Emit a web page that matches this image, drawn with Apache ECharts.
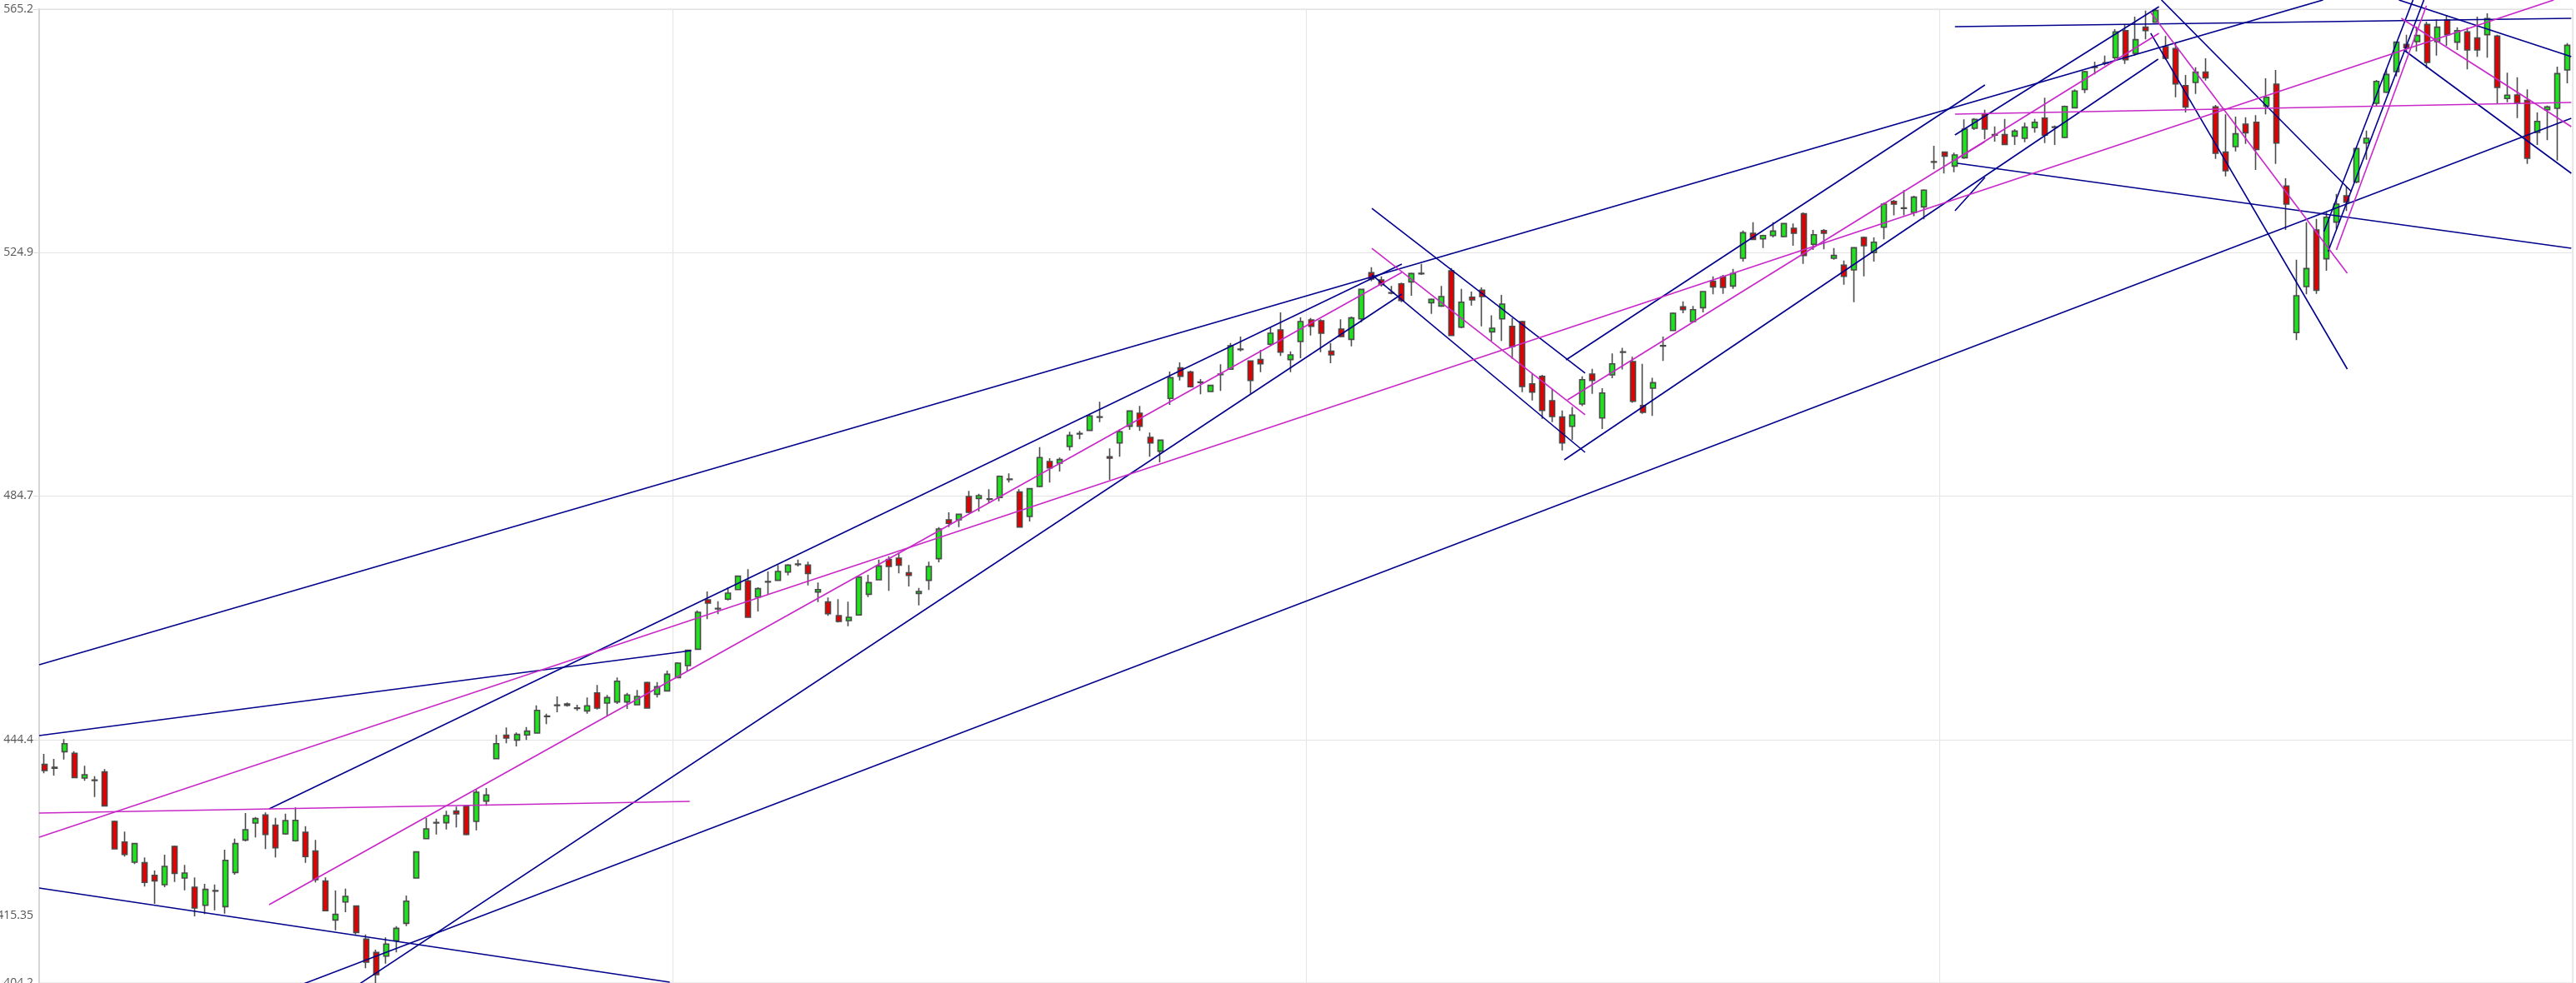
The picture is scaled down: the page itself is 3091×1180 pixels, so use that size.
<!DOCTYPE html>
<html>
<head>
<meta charset="utf-8">
<script src="https://cdn.jsdelivr.net/npm/echarts/dist/echarts.min.js"></script>
<style>html,body{margin:0;padding:0;background:#fff;overflow:hidden}#chart{width:3091px;height:1180px}</style>
</head>
<body>
<div id="chart"></div>
<script>
const opens = [440.33,439.69,442.44,442.17,438.08,437.67,439.09,430.92,427.52,424.17,424.08,422.01,420.45,426.79,421.55,420.04,417.05,419.40,416.82,422.47,
427.84,430.64,431.97,430.28,428.85,427.71,429.13,426.01,421.05,414.62,417.60,416.92,411.45,409.25,408.65,411.18,414.07,421.55,428.07,430.64,
430.69,432.62,433.44,430.92,434.27,441.29,445.15,444.37,445.20,445.52,448.23,450.06,450.34,449.60,449.19,452.17,450.47,450.66,450.66,450.20,
453.87,451.94,452.49,454.70,456.67,459.38,467.55,466.04,467.65,469.25,470.68,468.01,470.49,470.77,472.14,473.38,473.29,468.84,467.19,464.94,
464.11,465.03,468.47,470.86,474.21,474.44,472.01,468.61,470.77,474.35,480.78,480.78,484.63,484.31,484.17,484.45,487.43,485.37,481.33,486.28,
490.42,490.14,492.90,494.96,495.56,497.72,491.20,493.49,496.25,498.40,494.41,492.12,500.84,505.89,505.20,503.46,501.99,504.79,505.66,508.92,
507.04,507.27,509.79,512.18,507.27,510.25,513.82,513.69,508.64,512.31,510.61,514.01,521.63,520.44,518.23,519.79,520.11,521.45,516.67,516.12,
521.95,512.63,517.59,518.74,511.85,514.01,512.77,513.55,503.26,504.50,500.46,497.76,496.24,499.91,504.87,497.62,504.73,508.45,506.94,499.68,
502.53,509.51,512.08,515.98,513.55,515.84,520.21,520.94,519.43,524.02,528.15,527.23,527.78,527.60,528.98,531.37,526.32,528.61,524.02,522.87,
522.09,527.46,524.94,529.16,533.43,532.24,531.60,532.51,539.90,541.56,539.26,540.64,545.51,547.89,544.36,544.45,544.22,543.85,545.60,547.20,
545.64,543.99,548.90,551.93,555.56,556.25,557.17,561.66,557.90,562.22,563.04,559.00,558.68,552.57,553.08,554.78,549.04,541.56,542.47,546.19,
546.51,549.18,552.80,535.96,511.72,519.34,528.70,523.93,529.99,534.35,536.64,543.07,549.64,551.47,554.87,559.37,559.83,562.67,559.83,563.41,
559.74,561.44,560.43,560.98,560.75,550.42,551.01,550.10,544.82,548.58,548.81,555.15];
const closes = [439.32,439.87,443.77,438.17,438.63,437.76,433.49,426.37,425.46,427.25,420.82,421.09,423.48,422.33,422.38,416.59,419.67,419.49,424.49,427.25,
429.54,431.38,428.76,426.56,431.06,431.10,425.09,421.28,416.14,415.54,418.52,412.55,407.64,405.58,410.63,413.24,417.74,425.87,429.68,430.74,
431.88,432.16,428.76,435.74,435.28,443.77,444.69,445.29,445.84,449.28,448.32,450.15,450.11,449.69,450.02,449.65,451.39,454.10,451.81,451.58,
449.65,453.18,455.25,457.09,459.20,465.49,467.00,466.13,468.66,471.46,464.66,469.39,470.58,472.24,473.29,473.48,471.91,469.25,465.26,463.97,
464.66,471.32,470.40,473.15,473.06,473.29,471.59,468.93,473.06,479.26,480.18,481.69,482.02,484.77,484.26,487.98,487.52,479.58,485.92,491.06,
489.36,490.74,494.73,495.05,497.95,497.81,490.97,495.33,498.77,496.25,493.49,493.95,504.28,504.51,502.77,503.55,503.00,504.88,509.56,509.01,
503.82,506.58,511.63,508.51,508.05,513.56,512.77,511.62,508.04,511.07,514.15,518.87,520.57,519.65,518.32,517.04,521.49,521.54,517.22,517.68,
511.25,516.76,517.13,517.68,512.45,516.44,509.42,502.81,501.89,498.86,497.85,493.49,498.08,503.95,503.82,501.75,506.57,508.54,500.37,498.54,
503.45,509.60,514.93,515.52,515.52,518.51,519.29,519.20,521.49,528.24,527.14,527.78,528.52,529.76,528.15,524.48,527.92,528.15,524.48,521.03,
525.76,526.08,526.68,532.97,532.97,532.33,534.12,535.27,539.99,540.91,541.10,545.37,546.97,545.37,544.45,542.84,545.04,545.69,546.51,544.36,
545.73,549.13,551.66,554.87,555.65,556.34,561.44,556.84,560.15,561.66,564.97,557.07,552.85,549.04,554.78,553.86,541.37,538.48,544.59,544.77,
542.01,550.64,543.07,532.97,517.82,522.32,518.74,530.81,532.97,533.29,542.15,543.85,553.26,554.41,559.74,558.82,560.84,556.39,562.22,560.98,
561.66,558.45,558.45,563.64,552.25,550.97,549.73,540.55,546.65,549.04,554.55,559.23];
const lows = [438.86,438.49,441.16,438.08,437.62,434.96,433.40,426.28,425.09,423.85,420.13,417.28,420.04,420.91,419.53,415.22,415.58,416.23,415.68,422.10,
427.61,428.26,426.33,424.95,428.71,427.57,424.08,420.82,416.04,412.92,415.91,412.23,406.63,403.97,407.41,409.25,413.61,421.46,427.98,428.76,
429.59,429.91,428.62,429.45,433.49,441.20,443.82,443.31,444.37,445.42,446.99,448.96,449.88,449.19,448.73,449.42,448.27,450.34,449.51,450.11,
449.56,451.39,452.40,454.61,455.71,459.29,464.34,465.17,467.46,469.16,464.57,465.63,468.38,470.68,471.59,473.06,469.94,467.19,464.89,463.79,
463.19,464.94,468.01,470.77,469.02,471.91,469.76,466.63,469.16,473.75,479.58,479.58,481.88,482.15,483.53,483.85,486.93,479.49,480.50,486.15,
486.93,488.76,492.25,494.09,495.47,496.94,487.39,491.20,495.65,495.47,491.20,490.28,499.78,503.82,502.67,501.53,501.89,502.08,505.57,508.64,
501.62,505.20,509.56,507.86,505.20,507.50,511.25,508.50,506.66,510.93,509.46,513.46,520.25,519.33,518.05,516.76,517.82,521.26,514.83,515.98,
511.16,512.45,516.21,512.77,510.34,510.34,507.40,501.89,500.51,497.48,496.93,492.25,493.95,499.59,501.61,495.78,504.18,505.65,500.14,498.31,
497.94,507.03,511.99,514.93,513.46,515.06,518.05,518.14,518.97,523.47,527.00,525.72,527.46,527.46,526.08,523.10,525.40,525.49,523.79,519.66,
516.76,521.03,523.47,527.14,531.13,531.13,530.99,530.45,538.71,538.02,538.25,540.45,545.23,543.67,543.30,542.75,542.75,543.21,544.77,543.07,
542.75,543.85,548.81,551.33,554.41,555.92,556.84,556.16,557.53,560.20,562.95,556.84,550.64,548.12,551.20,553.40,540.45,537.56,541.69,542.93,
538.62,547.80,539.63,528.70,510.48,518.05,518.14,521.95,528.84,531.82,536.41,540.32,549.18,551.33,554.09,558.22,558.22,555.47,557.53,559.14,
558.45,555.24,557.30,557.17,549.64,549.82,547.20,539.63,542.75,543.53,540.18,552.95];
const highs = [442.07,441.25,444.51,442.53,440.10,438.40,439.55,431.06,429.22,427.34,424.95,422.79,425.41,426.92,423.71,421.64,420.59,420.50,426.24,428.07,
432.30,431.65,432.39,431.52,432.20,433.21,430.14,427.84,421.64,419.49,419.81,417.01,412.23,409.71,411.73,413.61,418.66,426.01,431.52,431.38,
432.66,433.35,433.58,436.20,436.43,445.24,446.43,445.61,446.53,450.11,448.73,451.58,450.57,450.20,451.39,453.46,451.81,454.70,452.17,452.63,
454.01,453.96,455.85,457.22,459.29,465.81,468.93,467.32,469.62,471.59,472.60,469.62,472.24,473.29,473.43,474.21,473.84,470.40,467.92,467.65,
467.23,471.46,471.69,474.21,474.76,475.36,473.29,469.53,473.84,479.58,482.02,481.79,485.55,485.09,485.83,488.12,488.44,485.83,486.01,492.80,
490.97,491.06,495.33,495.47,498.31,500.29,492.57,495.79,498.86,499.60,495.19,494.04,505.29,506.81,505.43,504.05,503.09,506.49,510.02,511.08,
507.13,508.87,512.55,515.07,508.64,514.24,514.15,513.92,510.01,513.92,514.38,518.97,522.55,521.03,519.43,519.98,521.63,523.10,517.36,519.43,
522.41,518.97,518.51,519.20,514.60,517.96,514.15,513.69,504.96,504.73,502.44,498.86,499.45,504.50,505.74,502.53,508.27,509.23,507.72,506.57,
504.27,511.07,515.06,516.90,516.12,518.60,521.03,521.26,522.28,528.61,529.99,527.92,529.99,529.85,529.76,531.60,528.70,528.84,525.72,523.65,
525.86,527.60,527.46,533.20,533.66,535.27,534.35,535.40,542.61,541.69,541.46,546.97,547.20,548.58,545.83,547.07,545.37,546.42,547.07,550.55,
545.96,549.27,551.93,555.01,556.52,557.53,561.90,562.67,563.96,564.97,565.20,560.75,559.74,554.32,555.60,557.07,549.36,547.80,547.43,547.34,
547.66,553.77,555.14,537.24,523.79,529.99,530.54,531.73,534.67,535.86,542.38,545.14,553.49,555.24,559.83,560.98,562.35,563.13,563.50,564.19,
562.22,562.12,563.96,564.51,560.98,554.69,553.95,551.93,548.12,549.27,555.70,559.60];

const categories = opens.map((_, i) => 'D' + (i + 1));

const yLabelValues = [404.2, 415.35, 444.45, 484.7, 524.95, 565.2];
const yLabelTexts = ['404.2', '415.35', '444.4', '484.7', '524.9', '565.2'];
const yGridValues = [404.2, 444.45, 484.7, 524.95, 565.2];

// trend lines: [startIndex, startPrice, endIndex, endPrice]
const blueLines = [
  [-0.5, 456.81, 226.67, 566.72],
  [-0.5, 445.11, 64.37, 459.15],
  [22.5, 401.97, 251.36, 547.16],
  [29.5, 402.0, 135.04, 518.10],
  [22.37, 432.99, 135.04, 523.06],
  [132.06, 532.28, 153.27, 505.02],
  [132.06, 521.27, 153.27, 491.93],
  [151.20, 490.69, 210.27, 556.94],
  [151.37, 507.22, 193.04, 552.67],
  [190.06, 562.31, 251.36, 563.69],
  [190.31, 539.72, 251.36, 525.67],
  [-0.5, 419.90, 62.22, 404.34],
  [190.06, 544.40, 210.35, 565.61],
  [190.06, 531.87, 193.04, 537.38],
  [210.60, 566.72, 229.49, 535.04],
  [209.53, 561.21, 229.08, 505.70],
  [226.76, 528.43, 235.62, 566.72],
  [227.17, 525.12, 236.70, 566.72],
  [234.21, 566.72, 251.36, 557.35],
  [234.71, 558.45, 251.36, 538.07]
];
const magentaLines = [
  [151.53, 500.61, 210.35, 561.21],
  [190.06, 547.85, 251.36, 549.78],
  [-0.5, 428.30, 249.62, 566.72],
  [22.37, 417.15, 135.04, 521.68],
  [-0.5, 432.30, 64.21, 434.23],
  [132.06, 525.67, 153.27, 498.13],
  [209.53, 564.65, 229.08, 521.54],
  [228.00, 525.40, 236.95, 565.75],
  [234.46, 563.69, 251.36, 545.78],
  [190.06, 540.27, 193.04, 543.30]
];

const candleData = opens.map((o, i) => [o, closes[i], lows[i], highs[i]]);

function lineSeries(seg, color) {
  return {
    type: 'line', xAxisIndex: 1, yAxisIndex: 0,
    data: [[seg[0], seg[1]], [seg[2], seg[3]]],
    symbol: 'none', clip: false, silent: true, animation: false, z: 5,
    lineStyle: { color: color, width: 1.6 }
  };
}

const chart = echarts.init(document.getElementById('chart'), null, { width: 3091, height: 1180, renderer: 'canvas' });
const series = [{
  type: 'candlestick',
  xAxisIndex: 0, yAxisIndex: 0,
  data: candleData,
  barWidth: 6.5,
  animation: false,
  z: 3,
  itemStyle: {
    color: '#1ee41e', color0: '#e20000',
    borderColor: '#4a4a4a', borderColor0: '#4a4a4a', borderWidth: 1.6
  }
}];
blueLines.forEach(s => series.push(lineSeries(s, '#00008c')));
magentaLines.forEach(s => series.push(lineSeries(s, '#c828c8')));

chart.setOption({
  animation: false,
  backgroundColor: '#ffffff',
  grid: { left: 47, right: 4, top: 11, bottom: 0, show: true, borderColor: '#dadada', borderWidth: 1,
          containLabel: false, outerBoundsMode: 'none' },
  xAxis: [{
    type: 'category', data: categories, boundaryGap: true,
    axisLine: { show: false }, axisTick: { show: false }, axisLabel: { show: false },
    splitLine: { show: true, interval: (i) => i > 0 && i % 63 === 0, lineStyle: { color: '#e4e4e4', width: 1 } }
  }, {
    type: 'value', min: -0.5, max: 251.5, show: false
  }],
  yAxis: [{
    type: 'value', min: 404.2, max: 565.2, position: 'left',
    axisLine: { show: false }, axisTick: { show: false }, splitLine: { show: false },
    axisLabel: {
      customValues: yLabelValues,
      margin: 7,
      color: '#555555', fontSize: 14, fontFamily: 'Open Sans, Noto Sans, sans-serif',
      formatter: function (v) {
        let best = 0;
        yLabelValues.forEach((t, k) => { if (Math.abs(t - v) < Math.abs(yLabelValues[best] - v)) best = k; });
        return yLabelTexts[best];
      }
    }
  }, {
    type: 'value', min: 0, max: yGridValues.length - 1, interval: 1, position: 'left',
    axisLabel: { show: false },
    axisLine: { show: true, lineStyle: { color: '#d6d6d6', width: 2 } },
    axisTick: { show: true, inside: false, length: 7, lineStyle: { color: '#dcdcdc' } },
    splitLine: { show: true, lineStyle: { color: '#e4e4e4', width: 1 } }
  }],
  series: series
});
</script>
</body>
</html>
